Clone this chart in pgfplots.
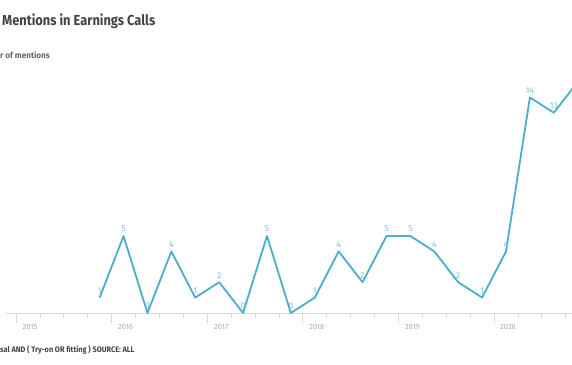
\documentclass[border=0pt]{standalone}
\usepackage{pgfplots}
\pgfplotsset{compat=1.18}
\usepackage{fontspec}
\setmainfont{Fira Sans}
\usepackage{graphicx}
\definecolor{linec}{RGB}{75,172,204}
\definecolor{labc}{RGB}{115,190,222}
\definecolor{tickc}{RGB}{217,217,217}
\definecolor{yearc}{RGB}{170,170,170}
\definecolor{titlec}{RGB}{68,68,68}
\definecolor{subc}{RGB}{102,102,102}
\begin{document}
\begin{tikzpicture}[x=1bp,y=1bp]
\useasboundingbox (0,0) rectangle (572,364);
\node[anchor=base west, inner sep=0pt, text=titlec] at (2,339) {\scalebox{0.89}[1]{\bfseries\fontsize{14.5}{17}\selectfont Mentions in Earnings Calls}};
\node[anchor=base west, inner sep=0pt, text=subc] at (0,305.7) {\scalebox{0.96}[1]{\bfseries\fontsize{8.5}{10}\selectfont r of mentions}};
\node[anchor=base west, inner sep=0pt, text=titlec] at (0,11.3) {\scalebox{0.92}[1]{\bfseries\fontsize{8}{10}\selectfont sal AND ( Try-on OR fitting ) SOURCE: ALL}};
\begin{axis}[
  at={(6.44bp,51bp)}, anchor=south west,
  scale only axis, width=583.2bp, height=246.4bp,
  xmin=-0.4, xmax=24, ymin=0, ymax=16,
  axis x line*=bottom, hide y axis,
  axis line style={draw=tickc, line width=0.8bp},
  xtick={0,4,8,12,16,20,24}, xticklabels={},
  minor xtick={1,2,3,5,6,7,9,10,11,13,14,15,17,18,19,21,22,23},
  tick align=outside, major tick length=10bp, minor tick length=5bp,
  tick style={draw=tickc, line width=0.8bp},
  clip=false,
]
\addplot[color=linec, line width=1.8bp, line join=round, mark=none] coordinates {
(22.5,13) (23.5,15)
};
\addplot[color=linec, line width=1.8bp, line join=round, mark=none,
  nodes near coords={\pgfmathprintnumber[assume math mode=true]{\pgfplotspointmeta}},
  every node near coord/.append style={font=\fontsize{8.5}{10}\selectfont, text=labc, anchor=center, yshift=7bp},
] coordinates {
(3.5,1) (4.5,5) (5.5,0) (6.5,4) (7.5,1)
(8.5,2) (9.5,0) (10.5,5) (11.5,0)
(12.5,1) (13.5,4) (14.5,2) (15.5,5)
(16.5,5) (17.5,4) (18.5,2) (19.5,1)
(20.5,4) (21.5,14) (22.5,13)
};
\node[text=yearc, font=\fontsize{7.5}{9}\selectfont, anchor=center, xshift=14bp, yshift=-13.7bp] at (axis cs:0,0) {2015};
\node[text=yearc, font=\fontsize{7.5}{9}\selectfont, anchor=center, xshift=14bp, yshift=-13.7bp] at (axis cs:4,0) {2016};
\node[text=yearc, font=\fontsize{7.5}{9}\selectfont, anchor=center, xshift=14bp, yshift=-13.7bp] at (axis cs:8,0) {2017};
\node[text=yearc, font=\fontsize{7.5}{9}\selectfont, anchor=center, xshift=14bp, yshift=-13.7bp] at (axis cs:12,0) {2018};
\node[text=yearc, font=\fontsize{7.5}{9}\selectfont, anchor=center, xshift=14bp, yshift=-13.7bp] at (axis cs:16,0) {2019};
\node[text=yearc, font=\fontsize{7.5}{9}\selectfont, anchor=center, xshift=14bp, yshift=-13.7bp] at (axis cs:20,0) {2020};
\end{axis}
\end{tikzpicture}
\end{document}
